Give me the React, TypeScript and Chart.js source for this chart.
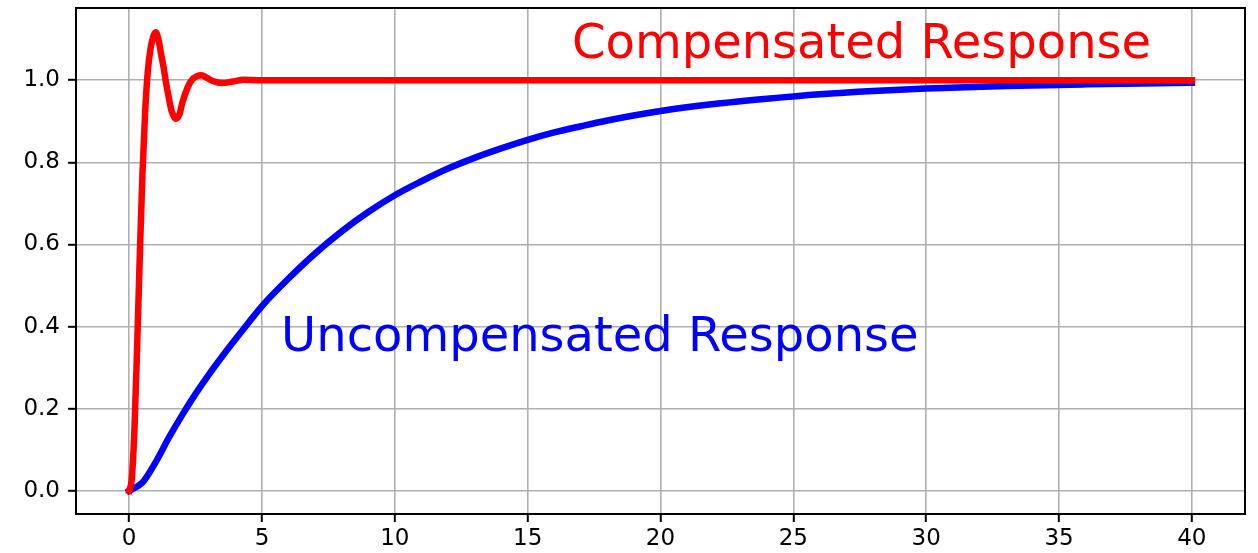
import React, { useEffect, useRef } from "react";
import { Chart, registerables } from "chart.js";

Chart.register(...registerables);

// Compensated response (red)
const redT = [0, 0.1, 0.2, 0.3, 0.4, 0.5, 0.6, 0.7, 0.8, 0.9, 1.0, 1.1, 1.2, 1.3, 1.4, 1.5, 1.6, 1.76, 1.9, 2.0, 2.2, 2.35, 2.55, 2.72, 2.9, 3.15, 3.5, 3.9, 4.3, 5.0, 6, 10, 20, 30, 40];
const redY = [0, 0.03, 0.15, 0.35, 0.57, 0.77, 0.92, 1.02, 1.075, 1.105, 1.117, 1.1, 1.065, 1.03, 0.99, 0.955, 0.925, 0.906, 0.918, 0.945, 0.982, 1.0, 1.01, 1.012, 1.007, 0.998, 0.993, 0.997, 1.001, 1.0, 1.0, 1.0, 1.0, 1.0, 1.0];

// Uncompensated response (blue)
const blueT = [0, 0.5, 1, 1.5, 2, 2.5, 3, 3.5, 4, 4.5, 5, 6, 7, 8, 9, 10, 11, 12, 13, 14, 15, 16, 17, 18, 20, 22, 24, 26, 28, 30, 33, 36, 40];
const blueY = [0, 0.02, 0.07, 0.13, 0.185, 0.236, 0.283, 0.327, 0.369, 0.41, 0.45, 0.517, 0.578, 0.632, 0.679, 0.72, 0.754, 0.785, 0.811, 0.834, 0.855, 0.873, 0.888, 0.902, 0.925, 0.942, 0.955, 0.966, 0.974, 0.98, 0.986, 0.99, 0.994];

const xTicks = [0, 5, 10, 15, 20, 25, 30, 35, 40];
const yTicks = [0.0, 0.2, 0.4, 0.6, 0.8, 1.0];

const labels = [
  { text: "Compensated Response", x: 16.67, y: 1.053, color: "#ff0000" },
  { text: "Uncompensated Response", x: 5.72, y: 0.34, color: "#0000ff" },
];

const FONT = "'DejaVu Sans', sans-serif";

const framePlugin = {
  id: "frameAndText",
  afterDatasetsDraw(chart: any) {
    const { ctx, chartArea, scales } = chart;
    ctx.save();
    ctx.font = `48px ${FONT}`;
    ctx.textBaseline = "alphabetic";
    ctx.textAlign = "left";
    for (const l of labels) {
      ctx.fillStyle = l.color;
      ctx.fillText(l.text, scales.x.getPixelForValue(l.x), scales.y.getPixelForValue(l.y));
    }
    ctx.strokeStyle = "#000";
    ctx.lineWidth = 2;
    ctx.strokeRect(chartArea.left, chartArea.top, chartArea.right - chartArea.left, chartArea.bottom - chartArea.top);
    ctx.restore();
  },
};

export default function App() {
  const ref = useRef<HTMLCanvasElement>(null);
  useEffect(() => {
    document.body.style.margin = "0";
    const chart = new Chart(ref.current!, {
      type: "line",
      data: {
        datasets: [
          {
            label: "Compensated",
            data: redT.map((t, i) => ({ x: t, y: redY[i] })),
            borderColor: "#ff0000",
            borderWidth: 6.5,
            pointRadius: 0,
            cubicInterpolationMode: "monotone",
            borderCapStyle: "square",
            borderJoinStyle: "round",
            fill: false,
          },
          {
            label: "Uncompensated",
            data: blueT.map((t, i) => ({ x: t, y: blueY[i] })),
            borderColor: "#0000ff",
            borderWidth: 6.5,
            pointRadius: 0,
            cubicInterpolationMode: "monotone",
            borderCapStyle: "square",
            borderJoinStyle: "round",
            fill: false,
          },
        ],
      },
      options: {
        animation: false,
        responsive: false,
        devicePixelRatio: 1,
        layout: { padding: { top: 8, right: 13, left: 0, bottom: 0 } },
        plugins: { legend: { display: false }, tooltip: { enabled: false } },
        scales: {
          x: {
            type: "linear",
            min: -2,
            max: 42,
            afterFit: (s: any) => { s.height = 39; s.paddingLeft = 0; s.paddingRight = 0; },
            afterBuildTicks: (s: any) => { s.ticks = xTicks.map((v) => ({ value: v })); },
            border: { display: false },
            grid: { color: "#b0b0b0", lineWidth: 1.6, tickColor: "#000", tickLength: 8, tickWidth: 2 },
            ticks: { color: "#000", font: { family: FONT, size: 23 }, padding: 3, maxRotation: 0, callback: (v: any) => String(v) },
          },
          y: {
            type: "linear",
            min: -0.0566,
            max: 1.176,
            afterFit: (s: any) => { s.width = 76; s.paddingTop = 0; s.paddingBottom = 0; },
            afterBuildTicks: (s: any) => { s.ticks = yTicks.map((v) => ({ value: v })); },
            border: { display: false },
            grid: { color: "#b0b0b0", lineWidth: 1.6, tickColor: "#000", tickLength: 8, tickWidth: 2 },
            ticks: { color: "#000", font: { family: FONT, size: 23 }, padding: 8, callback: (v: any) => Number(v).toFixed(1) },
          },
        },
      },
      plugins: [framePlugin],
    });
    return () => chart.destroy();
  }, []);
  return (
    <div style={{ position: "absolute", left: 0, top: 0, width: 1258, height: 553 }}>
      <canvas ref={ref} width={1258} height={553} />
    </div>
  );
}
